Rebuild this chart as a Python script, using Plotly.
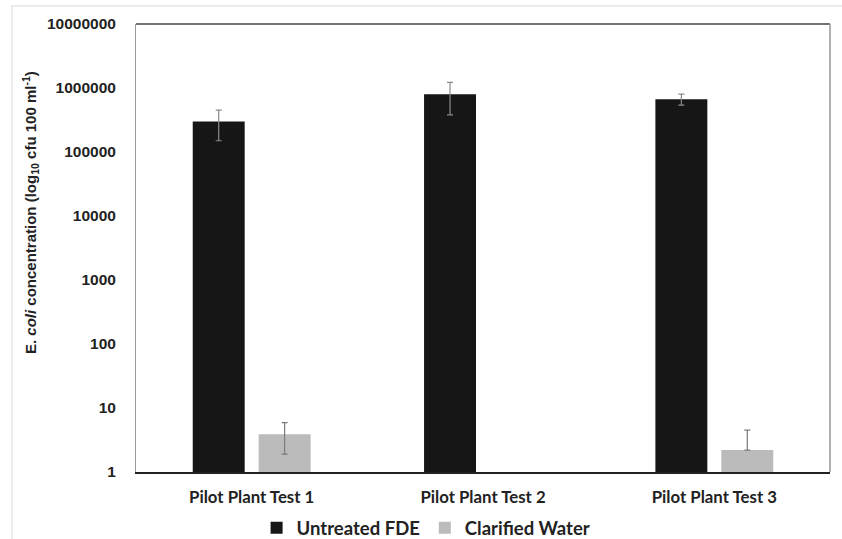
import plotly.graph_objects as go

categories = ["Pilot Plant Test 1", "Pilot Plant Test 2", "Pilot Plant Test 3"]
untreated = [300000, 800000, 670000]
untreated_err = [150000, 420000, 130000]
clarified = [3.9, None, 2.2]
clarified_err_plus = [2.0, None, 2.3]
clarified_err_minus = [2.0, None, 0]
y_ticks = [1, 10, 100, 1000, 10000, 100000, 1000000, 10000000]
y_tick_labels = [str(v) for v in y_ticks]
y_title = "E. <i>coli</i> concentration (log<sub>10</sub> cfu 100 ml<sup>-1</sup>)"

fig = go.Figure()
fig.add_trace(go.Bar(
    name="Untreated FDE", x=categories, y=untreated,
    marker=dict(color="#161616", line=dict(width=0)),
    error_y=dict(type="data", array=untreated_err, color="#8a8a8a", thickness=1.2, width=3),
))
fig.add_trace(go.Bar(
    name="Clarified Water", x=categories, y=clarified,
    marker=dict(color="#bbbbbb", line=dict(width=0)),
    error_y=dict(type="data", array=clarified_err_plus, arrayminus=clarified_err_minus,
                 symmetric=False, color="#7a7a7a", thickness=1.2, width=3),
))

fig.update_layout(
    width=842, height=539,
    margin=dict(l=136, r=12, t=24, b=67, autoexpand=False),
    paper_bgcolor="white", plot_bgcolor="white",
    barmode="group", bargap=0.43, bargroupgap=0.212,
    showlegend=True,
    legend=dict(orientation="h", x=0.418, xanchor="center", y=-0.083, yanchor="top",
                font=dict(family="Lato", size=18.5, color="#222222", weight="bold"),
                itemsizing="constant", traceorder="normal", itemwidth=30),
    font=dict(family="Arial", color="#222222"),
)
fig.update_xaxes(
    automargin=False,
    showline=True, linecolor="#222222", linewidth=1.5, mirror=False,
    ticks="", tickfont=dict(family="Lato", size=16.8, color="#222222", weight="bold"),
    ticklabelstandoff=9,
)
fig.update_yaxes(
    automargin=False,
    type="log", range=[0, 7], tickvals=y_ticks, ticktext=y_tick_labels,
    tickfont=dict(family="Arial", size=15.5, color="#222222", weight="bold"),
    showgrid=False, zeroline=False,
    showline=True, linecolor="#999999", linewidth=1,
    ticks="", ticklabelstandoff=16,
)
fig.add_annotation(
    text=y_title, textangle=-90, showarrow=False,
    xref="paper", yref="paper", x=(30 - 136) / 694, y=(472 - 213) / 448,
    xanchor="center", yanchor="middle",
    font=dict(family="Arial", size=15, color="#222222", weight="bold"),
)
# plot frame top and right
fig.add_shape(type="line", xref="paper", yref="paper", x0=0, x1=1, y0=1, y1=1,
              line=dict(color="#444444", width=1.5))
fig.add_shape(type="line", xref="paper", yref="paper", x0=1, x1=1, y0=0, y1=1,
              line=dict(color="#999999", width=1.5))
# outer chart border (light)
fig.add_shape(type="rect", xref="paper", yref="paper",
              x0=(12 - 136) / 694, x1=(842 - 136) / 694 + 0.01,
              y0=(472 - 560) / 448, y1=(472 - 6) / 448,
              line=dict(color="#e6e6e6", width=1.5), layer="below")

fig.write_html("out.html")
